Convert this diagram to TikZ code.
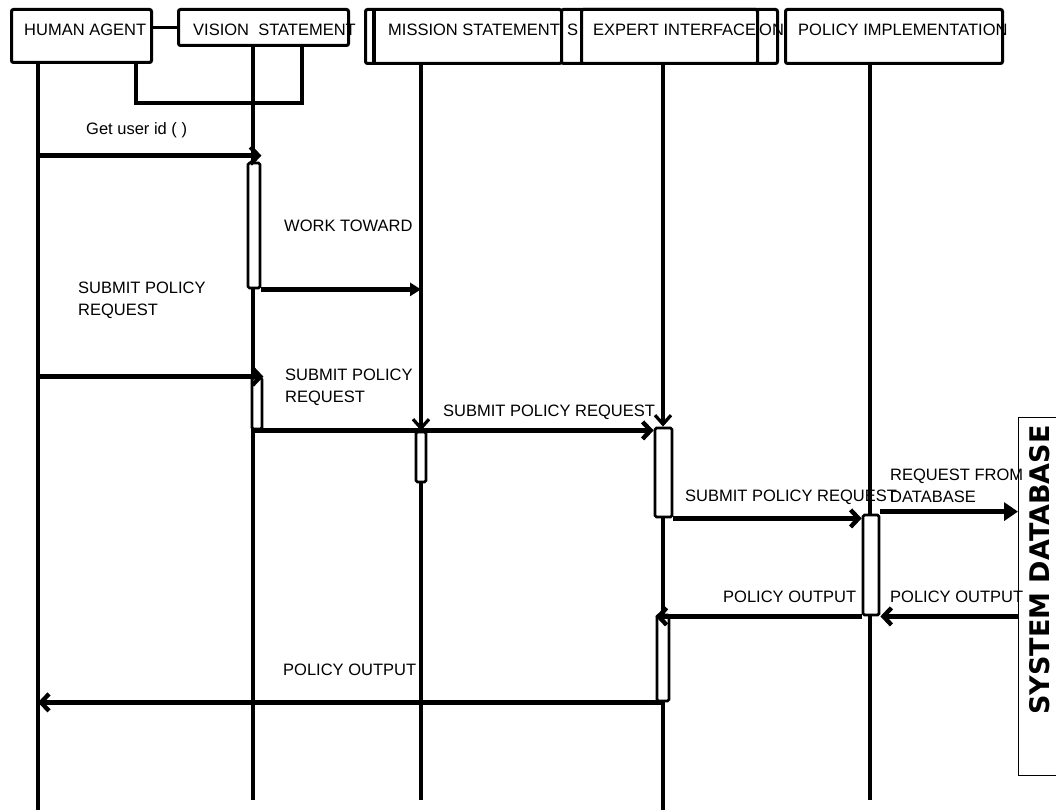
\documentclass[tikz,border=0pt]{standalone}
\usepackage{fontspec}
\setmainfont{Liberation Sans}
\newfontfamily\heavyface{DejaVu Sans}
\usetikzlibrary{arrows.meta,positioning}
\definecolor{SeqInk}{RGB}{0,0,0}
\definecolor{SeqPaper}{RGB}{255,255,255}
\tikzset{
  sq/head/.style={
    draw=SeqInk,
    line width=3pt,
    rounded corners=2pt,
    fill=SeqPaper,
    inner sep=0pt,
    anchor=north west
  },
  sq/act/.style={
    draw=SeqInk,
    line width=2.8pt,
    rounded corners=1.5pt,
    fill=SeqPaper,
    inner sep=0pt
  },
  sq/store/.style={
    draw=SeqInk,
    line width=1.2pt,
    fill=SeqPaper,
    inner sep=0pt,
    anchor=north west
  },
  sq/life/.style={draw=SeqInk, line width=3.2pt},
  sq/down/.style={-{Straight Barb[length=9pt,width=16pt]}},
  sq/msg/.style={-{Straight Barb[length=8pt,width=17pt]}, line width=4.4pt, draw=SeqInk},
  sq/call/.style={-{Triangle[length=11pt,width=13pt]}, line width=4.2pt, draw=SeqInk},
  sq/query/.style={-{Triangle[length=14pt,width=18pt]}, line width=5pt, draw=SeqInk},
  sq/label/.style={font=\fontsize{16.5}{22}\selectfont, text=SeqInk, inner sep=0pt, anchor=west, align=left},
  sq/title/.style={font=\heavyface\fontsize{27}{28}\selectfont\bfseries, text=SeqInk, inner sep=0pt, rotate=90}
}

\begin{document}
\begin{tikzpicture}[x=1pt,y=-1pt]
  \useasboundingbox (0,0) rectangle (1056,810);

  % header row
  \node[sq/head,minimum width=140,minimum height=53] (human) at (10,8) {};
  \node[sq/head,minimum width=170,minimum height=36] (vision) at (177,8) {};
  \node[sq/head,minimum width=196,minimum height=54] (mission) at (364,8) {};
  \node[sq/head,minimum width=216,minimum height=54] (expertBack) at (560,8) {};
  \node[sq/head,minimum width=176,minimum height=54] (expert) at (580,8) {};
  \node[sq/head,minimum width=217,minimum height=54] (policy) at (784,8) {};
  \draw[sq/life] ([xshift=10pt]mission.north west) -- ([xshift=10pt]mission.south west);
  \draw[sq/life] (vision.west) -- (vision.west -| human.east);
  \draw[sq/life] ([xshift=-17pt]human.south east) -- ++(0,39) -| ([xshift=-48pt]vision.south east);

  \node[sq/label] (humanT) at (24,30) {HUMAN AGENT};
  \node[sq/label] (visionT) at (193,30) {VISION\ \ STATEMENT};
  \node[sq/label] (missionT) at (388,30) {MISSION STATEMENT};
  \node[sq/label] (fragS) at (567,30) {S};
  \node[sq/label] (expertT) at (593,30) {EXPERT INTERFACE};
  \node[sq/label] (fragON) at (759,30) {ON};
  \node[sq/label] (policyT) at (798,30) {POLICY IMPLEMENTATION};

  % lifeline tops and ends
  \coordinate (hLife) at (38,61);
  \coordinate (vLife) at (253,44);
  \coordinate (mLife) at (421,62);
  \coordinate (eLife) at (663,62);
  \coordinate (pLife) at (870,62);
  \coordinate (endShort) at (0,800);
  \coordinate (endLong) at (0,812);

  % activations
  \node[sq/act,minimum width=12,minimum height=125] (va1) at (254,225.5) {};
  \node[sq/act,minimum width=10,minimum height=51] (va2) at (257,403.5) {};
  \node[sq/act,minimum width=10,minimum height=50] (ma1) at (421,457) {};
  \node[sq/act,minimum width=17,minimum height=89] (ea1) at (663.5,472.5) {};
  \node[sq/act,minimum width=16,minimum height=100] (pa1) at (871,565) {};
  \node[sq/act,minimum width=12,minimum height=86] (ea2) at (663,658) {};

  % system database
  \node[sq/store,minimum width=44,minimum height=358] (db) at (1018,417) {};
  \node[sq/title] (dbT) at (1040,570) {SYSTEM DATABASE};

  % lifelines
  \draw[sq/life] (hLife) -- (hLife |- endLong);
  \draw[sq/life] (vLife) -- (vLife |- va1.north);
  \draw[sq/life] (vLife |- va1.south) -- (vLife |- va2.north);
  \draw[sq/life] (vLife |- va2.south) -- (vLife |- endShort);
  \draw[sq/life,sq/down] (mLife) -- (mLife |- ma1.north);
  \draw[sq/life] (ma1.south) -- (mLife |- endShort);
  \draw[sq/life,sq/down] (eLife) -- (eLife |- ea1.north);
  \draw[sq/life] (eLife |- ea1.south) -- (eLife |- ea2.north);
  \draw[sq/life] (eLife |- ea2.south) -- (eLife |- endLong);
  \draw[sq/life] (pLife) -- (pLife |- pa1.north);
  \draw[sq/life] (pLife |- pa1.south) -- (pLife |- endShort);

  % messages
  \coordinate (getIn) at ([yshift=6pt]va1.north east);
  \draw[sq/msg] (hLife |- getIn) -- (getIn);
  \draw[sq/call] (va1.south east) -- (va1.south east -| mLife);
  \draw[sq/msg] (hLife |- va2.north) -- (va2.north east);
  \draw[sq/msg] (va2.south west) -- (va2.south west -| ea1.west);
  \draw[sq/msg] (ea1.south east) -- (ea1.south east -| pa1.west);
  \draw[sq/query] ([yshift=2pt]pa1.north east) -- ([yshift=2pt]pa1.north east -| db.west);
  \draw[sq/msg] (db.west |- pa1.south) -- (pa1.south east);
  \draw[sq/msg] (pa1.south west) -- (pa1.south west -| ea2.west);
  \draw[sq/msg] (ea2.south) -- (ea2.south -| hLife);

  % message labels
  \node[sq/label] (getT) at (86,130) {Get user id (\ )};
  \node[sq/label] (workT) at (284,226) {WORK TOWARD};
  \node[sq/label] (req1T) at (78,300) {SUBMIT POLICY\\REQUEST};
  \node[sq/label] (req2T) at (285,387) {SUBMIT POLICY\\REQUEST};
  \node[sq/label] (req3T) at (443,412) {SUBMIT POLICY REQUEST};
  \node[sq/label] (req4T) at (685,497) {SUBMIT POLICY REQUEST};
  \node[sq/label] (dbReqT) at (890,486) {REQUEST FROM\\DATABASE};
  \node[sq/label] (out1T) at (723,597) {POLICY OUTPUT};
  \node[sq/label] (out2T) at (890,597) {POLICY OUTPUT};
  \node[sq/label] (out3T) at (283,670) {POLICY OUTPUT};
\end{tikzpicture}
\end{document}
